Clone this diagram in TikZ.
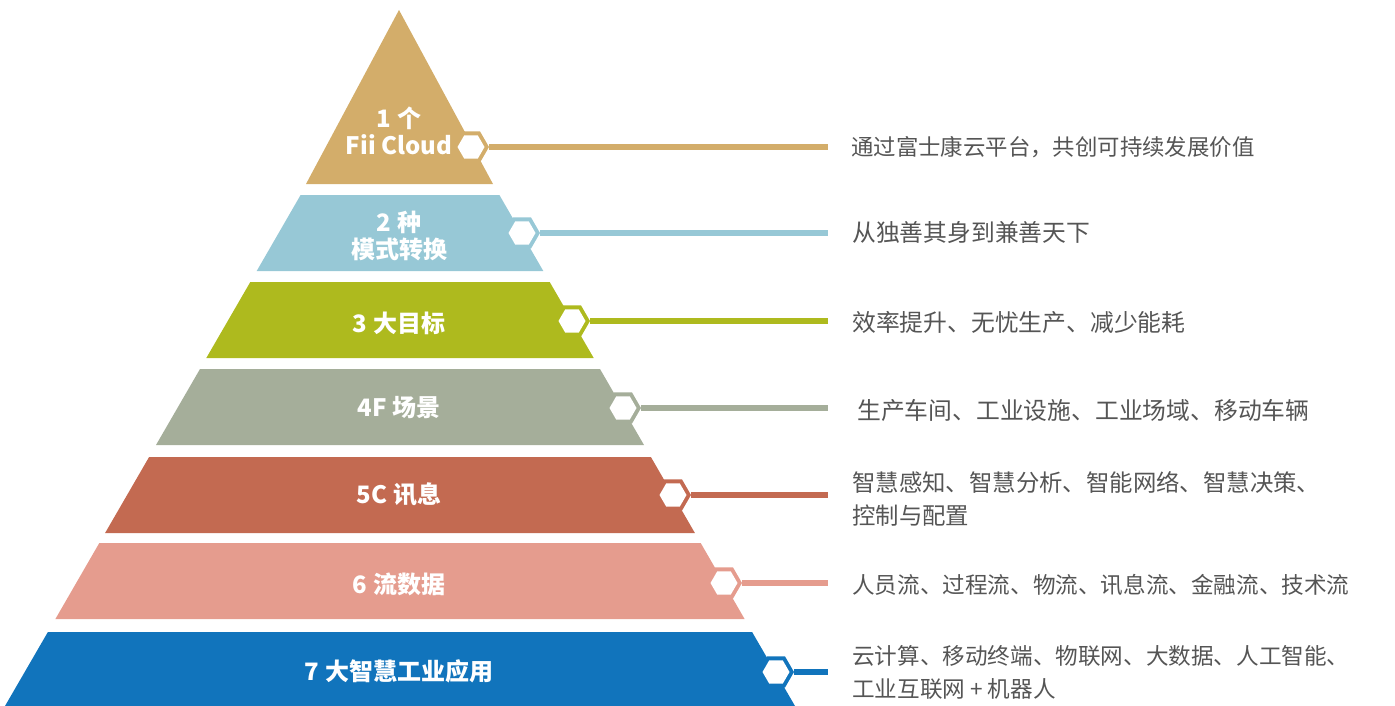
\documentclass[tikz,border=0pt]{standalone}
\usepackage{fontspec}
\setmainfont{Noto Sans CJK SC}
\usetikzlibrary{shapes.geometric}
\definecolor{c1}{HTML}{D3AD6A}
\definecolor{c2}{HTML}{97C8D6}
\definecolor{c3}{HTML}{AEBA1E}
\definecolor{c4}{HTML}{A5AE9A}
\definecolor{c5}{HTML}{C36A51}
\definecolor{c6}{HTML}{E59C8E}
\definecolor{c7}{HTML}{1174BC}
\definecolor{desccol}{HTML}{555555}
\begin{document}
\begin{tikzpicture}[x=1pt,y=-1pt,
  layerlabel/.style={text=white,font=\fontsize{24}{27}\selectfont\bfseries,align=center,inner sep=0},
  desc/.style={text=desccol,font=\fontsize{#1}{33}\selectfont,align=left,anchor=west,inner sep=0},
  desc/.default=22.4,
  hexout/.style={regular polygon,regular polygon sides=6,minimum size=36pt,inner sep=0,fill=#1},
  hexin/.style={regular polygon,regular polygon sides=6,minimum size=27pt,inner sep=0,fill=white},
  conn/.style={line width=5.5pt,draw=#1}]
\useasboundingbox (0,0) rectangle (1395,706);
% layers
\fill[c1] (399,10) -- (493,184) -- (306,184) -- cycle;
\fill[c2] (300.6,195) -- (499.4,195) -- (543.3,271) -- (256.7,271) -- cycle;
\fill[c3] (250.3,282) -- (549.7,282) -- (593.7,358) -- (206.3,358) -- cycle;
\fill[c4] (200.0,369) -- (600.0,369) -- (644.0,445) -- (156.0,445) -- cycle;
\fill[c5] (149.1,457) -- (650.9,457) -- (694.9,533) -- (105.1,533) -- cycle;
\fill[c6] (99.3,543) -- (700.7,543) -- (744.6,619) -- (55.4,619) -- cycle;
\fill[c7] (47.9,632) -- (752.1,632) -- (795,706) -- (5,706) -- cycle;
% hexagons
\node[hexout=c1] (h1) at (471,147) {};
\node[hexout=c2] (h2) at (522,233) {};
\node[hexout=c3] (h3) at (572,321) {};
\node[hexout=c4] (h4) at (623,408) {};
\node[hexout=c5] (h5) at (673,495) {};
\node[hexout=c6] (h6) at (724,583) {};
\node[hexout=c7] (h7) at (776,672) {};
\node[hexin] (i1) at (h1) {};
\node[hexin] (i2) at (h2) {};
\node[hexin] (i3) at (h3) {};
\node[hexin] (i4) at (h4) {};
\node[hexin] (i5) at (h5) {};
\node[hexin] (i6) at (h6) {};
\node[hexin] (i7) at (h7) {};
% connector ends
\coordinate (e1) at (828,147);
\coordinate (e2) at (828,233);
\coordinate (e3) at (828,321);
\coordinate (e4) at (828,408);
\coordinate (e5) at (828,495);
\coordinate (e6) at (828,583);
\coordinate (e7) at (828,672);
\draw[conn=c1] (h1.east) -- (e1);
\draw[conn=c2] (h2.east) -- (e2);
\draw[conn=c3] (h3.east) -- (e3);
\draw[conn=c4] (h4.east) -- (e4);
\draw[conn=c5] (h5.east) -- (e5);
\draw[conn=c6] (h6.east) -- (e6);
\draw[conn=c7] (h7.east) -- (e7);
% layer labels
\node[layerlabel] (l1) at (399,131) {1 个\\Fii Cloud};
\node[layerlabel] (l2) at (399,236.5) {2 种\\模式转换};
\node[layerlabel] (l3) at (399,323) {3 大目标};
\node[layerlabel] (l4) at (399,408) {4F 场景};
\node[layerlabel] (l5) at (399,494) {5C 讯息};
\node[layerlabel] (l6) at (399,584) {6 流数据};
\node[layerlabel] (l7) at (399,671) {7 大智慧工业应用};
% descriptions
\node[desc] (t1) at (851,147) {通过富士康云平台，共创可持续发展价值};
\node[desc=23.8] (t2) at (852,233) {从独善其身到兼善天下};
\node[desc=23.8] (t3) at (852,322) {效率提升、无忧生产、减少能耗};
\node[desc=23.8] (t4) at (857,410) {生产车间、工业设施、工业场域、移动车辆};
\node[desc=23.4] (t5) at (852,498.5) {智慧感知、智慧分析、智能网络、智慧决策、\\控制与配置};
\node[desc=22.6] (t6) at (852,585) {人员流、过程流、物流、讯息流、金融流、技术流};
\node[desc=22.6] (t7) at (852,672.5) {云计算、移动终端、物联网、大数据、人工智能、\\工业互联网 + 机器人};
\end{tikzpicture}
\end{document}
